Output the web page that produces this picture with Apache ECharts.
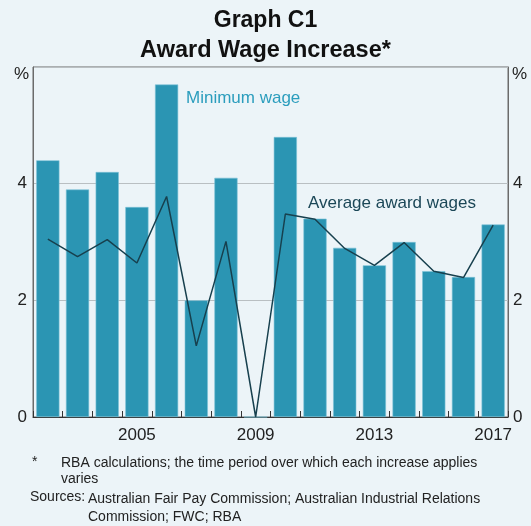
<!DOCTYPE html>
<html>
<head>
<meta charset="utf-8">
<script src="https://cdn.jsdelivr.net/npm/echarts@6/dist/echarts.min.js"></script>
<style>
html,body{margin:0;padding:0;background:#ecf4f8;}
#chart{width:531px;height:526px;}
</style>
</head>
<body>
<div id="chart"></div>
<script>
const years = ['2002','2003','2004','2005','2006','2007','2008','2009','2010','2011','2012','2013','2014','2015','2016','2017'];
const minimumWage = [4.4, 3.9, 4.2, 3.6, 5.7, 2.0, 4.1, 0, 4.8, 3.4, 2.9, 2.6, 3.0, 2.5, 2.4, 3.3];
const averageAwardWages = [3.05, 2.75, 3.04, 2.64, 3.78, 1.22, 3.01, 0, 3.48, 3.39, 2.89, 2.6, 2.99, 2.5, 2.39, 3.29];
const yTicks = [0, 2, 4, 6];

const font = 'Arial, "Liberation Sans", Helvetica, sans-serif';
const chart = echarts.init(document.getElementById('chart'), null, {renderer: 'canvas'});

const yAxisCommon = {
  type: 'value', min: yTicks[0], max: yTicks[yTicks.length - 1], interval: yTicks[1] - yTicks[0],
  axisLine: {show: true, lineStyle: {color: '#6b6b6b', width: 1}},
  axisTick: {show: false},
  splitLine: {show: true, lineStyle: {color: '#b9bfc2', width: 1}},
  axisLabel: {showMaxLabel: false, color: '#222', fontSize: 17, fontFamily: font},
  name: '%', nameLocation: 'end', nameGap: -16
};

chart.setOption({
  backgroundColor: '#ecf4f8',
  animation: false,
  title: [
    {text: 'Graph C1', left: 'center', top: 4, textStyle: {fontFamily: font, fontSize: 23, fontWeight: 'bold', color: '#111'}},
    {text: 'Award Wage Increase*', left: 'center', top: 34, textStyle: {fontFamily: font, fontSize: 23.5, fontWeight: 'bold', color: '#111'}}
  ],
  grid: {left: 33, right: 23, top: 67, bottom: 109, show: true, borderColor: '#6b6b6b', borderWidth: 1, backgroundColor: 'transparent'},
  xAxis: {
    type: 'category', data: years, boundaryGap: true,
    axisLine: {show: true, lineStyle: {color: '#333', width: 1}},
    axisTick: {show: true, inside: true, length: 6, interval: 0, lineStyle: {color: '#333'}},
    axisLabel: {interval: (i) => i % 4 === 3, color: '#222', fontSize: 17, fontFamily: font, margin: 10}
  },
  yAxis: [
    Object.assign({}, yAxisCommon, {position: 'left',
      axisLabel: Object.assign({}, yAxisCommon.axisLabel, {margin: 6}),
      nameTextStyle: {align: 'right', padding: [0, 4, 0, 0], color: '#222', fontSize: 17, fontFamily: font}}),
    Object.assign({}, yAxisCommon, {position: 'right',
      splitLine: {show: false},
      axisLabel: Object.assign({}, yAxisCommon.axisLabel, {margin: 5}),
      nameTextStyle: {align: 'left', padding: [0, 0, 0, 4], color: '#222', fontSize: 17, fontFamily: font}})
  ],
  series: [
    {type: 'bar', name: 'Minimum wage', data: minimumWage, barCategoryGap: '22%',
     itemStyle: {color: '#2b95b3', borderColor: '#7cc3d6', borderWidth: 0.6}, z: 2},
    {type: 'line', name: 'Average award wages', data: averageAwardWages, showSymbol: false, symbol: 'none',
     lineStyle: {color: '#17404e', width: 1.5}, z: 3}
  ],
  graphic: [
    {type: 'text', left: 186, top: 90, style: {text: 'Minimum wage', fill: '#2b9dbd', font: '17px ' + font}},
    {type: 'text', left: 308, top: 195, style: {text: 'Average award wages', fill: '#1b4757', font: '17px ' + font}},
    {type: 'text', left: 32, top: 455, style: {text: '*', fill: '#222', font: '14px ' + font}},
    {type: 'text', left: 61, top: 455, style: {text: 'RBA calculations; the time period over which each increase applies\nvaries', fill: '#222', font: '14px ' + font, lineHeight: 16}},
    {type: 'text', left: 30, top: 490, style: {text: 'Sources:', fill: '#222', font: '14px ' + font}},
    {type: 'text', left: 88, top: 490, style: {text: 'Australian Fair Pay Commission; Australian Industrial Relations\nCommission; FWC; RBA', fill: '#222', font: '14px ' + font, lineHeight: 18}}
  ]
});
</script>
</body>
</html>
